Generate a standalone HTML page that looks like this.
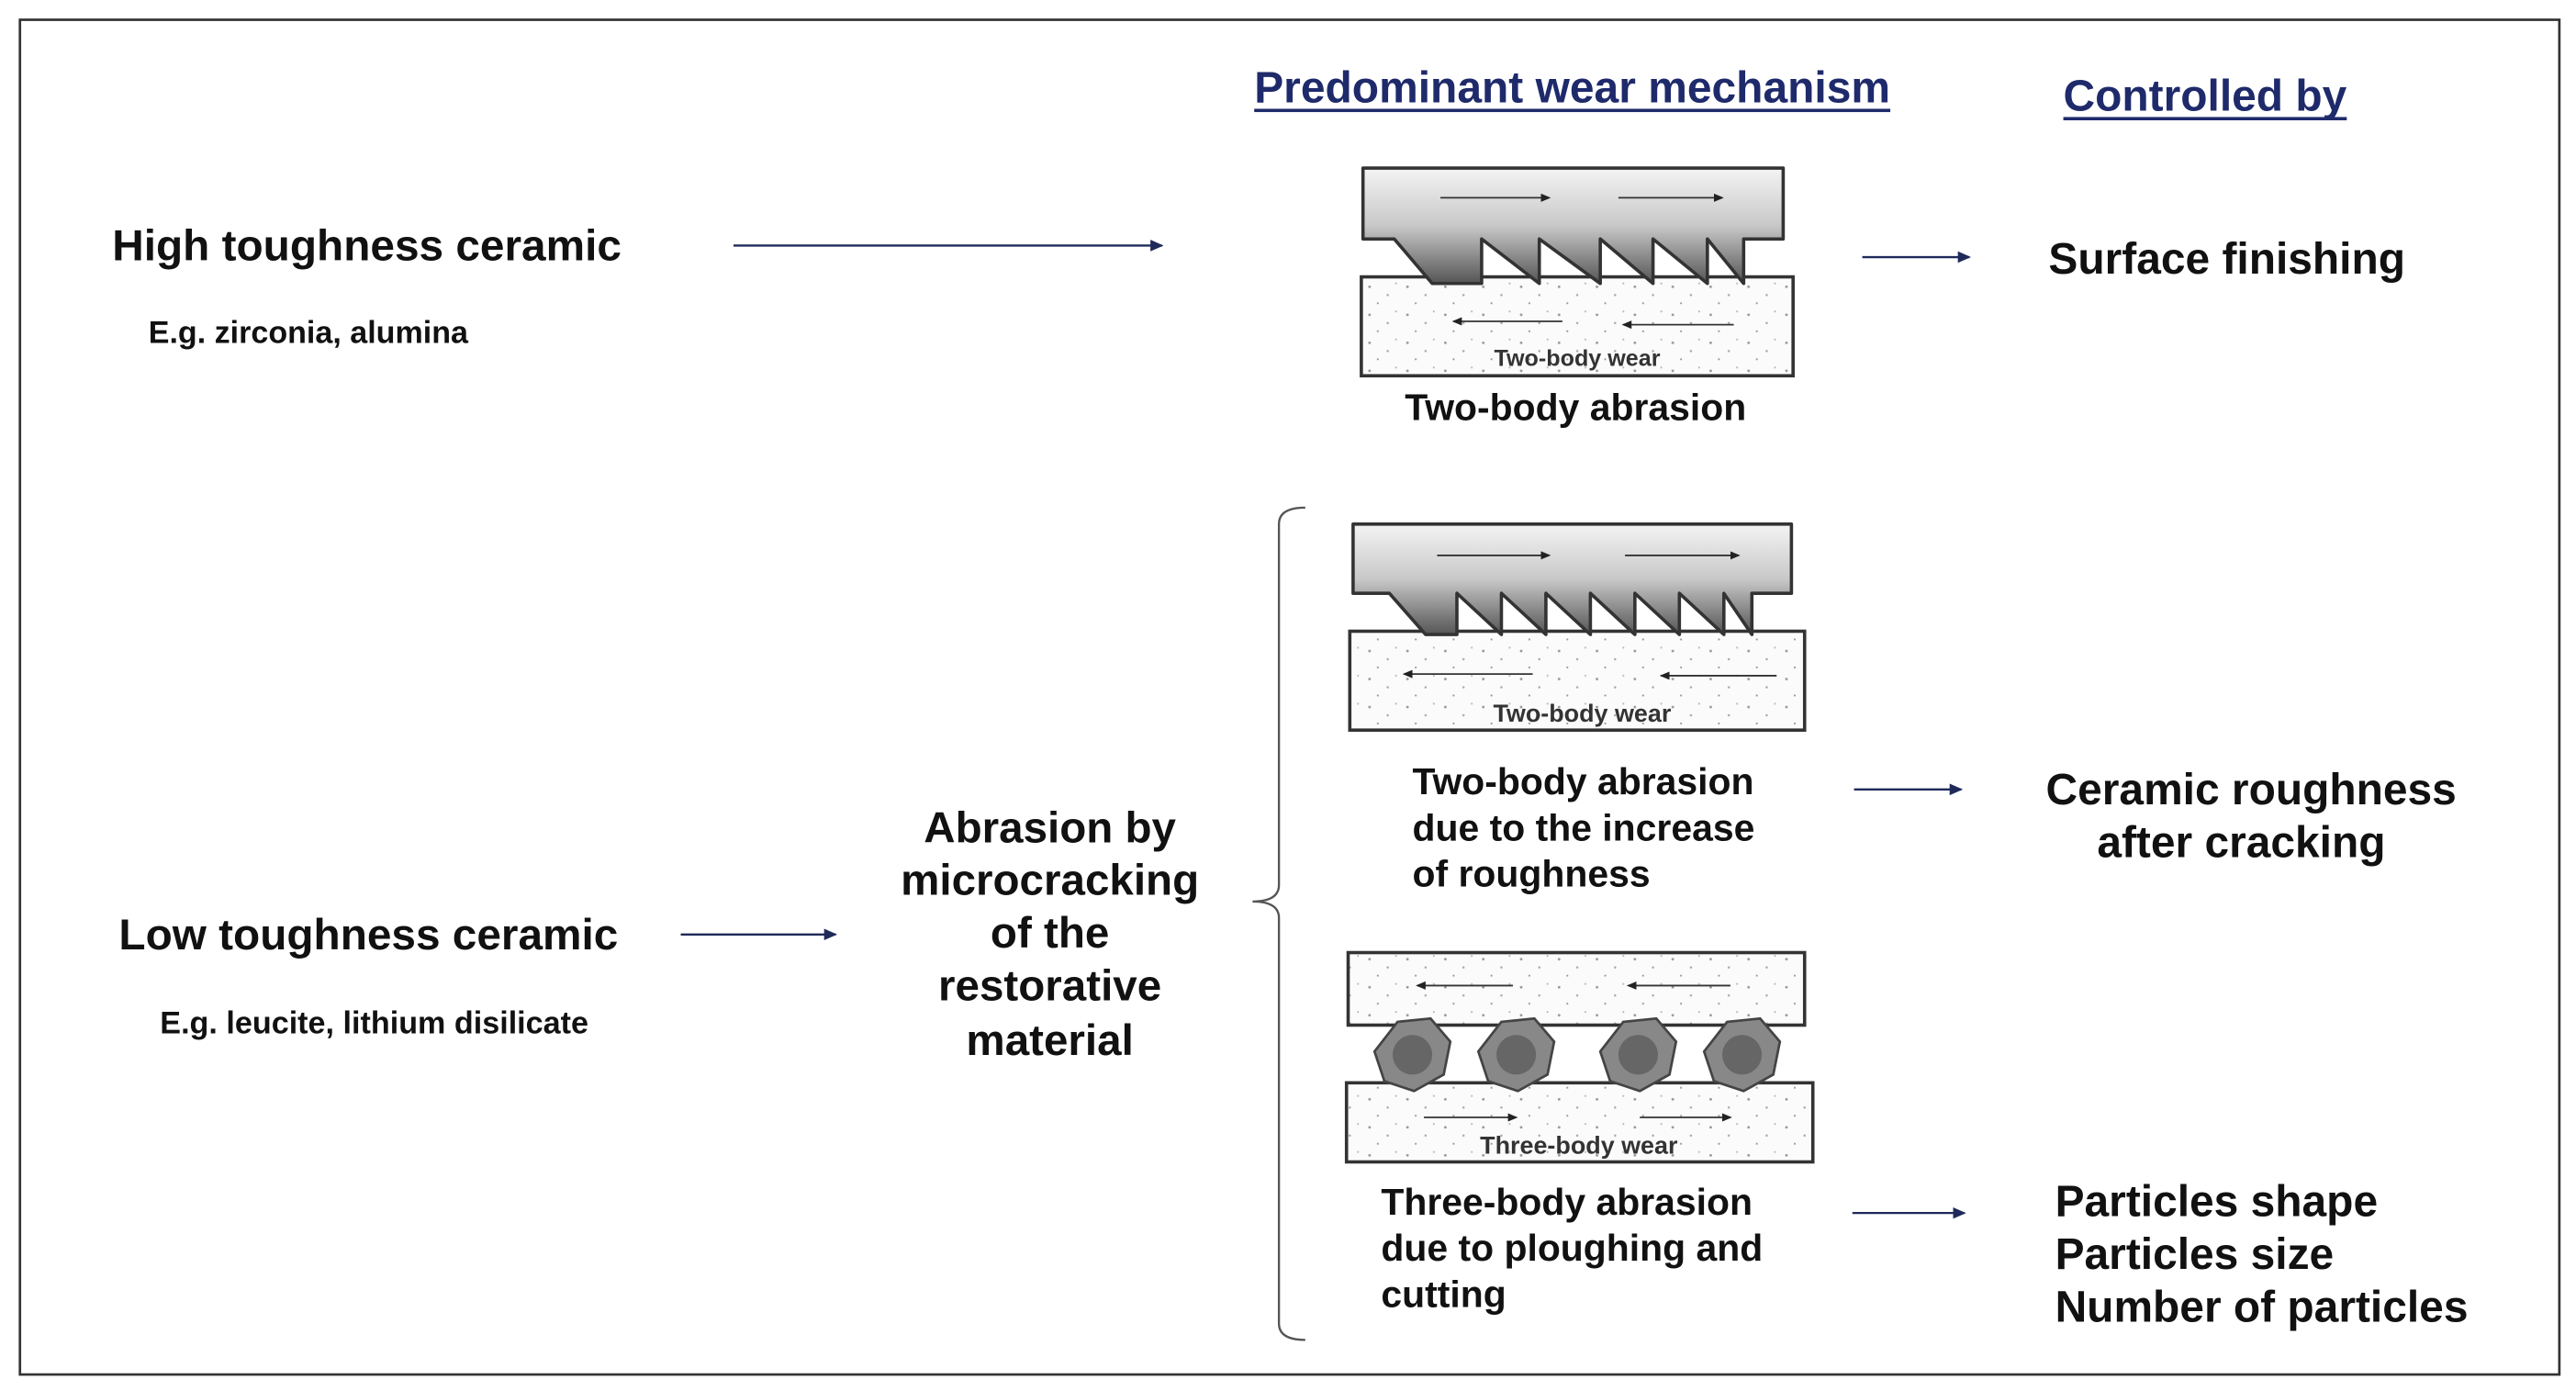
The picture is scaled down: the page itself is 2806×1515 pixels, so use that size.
<!DOCTYPE html>
<html><head><meta charset="utf-8"><style>
html,body{margin:0;padding:0;background:#fff;}
svg{display:block;}
text{font-family:"Liberation Sans",Arial,sans-serif;font-weight:bold;}
</style></head><body>
<svg width="2806" height="1515" viewBox="0 0 1563 844" xmlns="http://www.w3.org/2000/svg">
<defs>
<linearGradient id="g" x1="0" y1="0" x2="0" y2="1">
<stop offset="0" stop-color="#f4f4f4"/><stop offset="0.5" stop-color="#c8c8c8"/><stop offset="1" stop-color="#555"/>
</linearGradient>
<marker id="a" markerWidth="8" markerHeight="8" refX="7" refY="4" orient="auto" markerUnits="userSpaceOnUse"><path d="M0,0.5 L8,4 L0,7.5z" fill="#1f2a5a"/></marker>
<marker id="s" markerWidth="6" markerHeight="6" refX="5" refY="3" orient="auto" markerUnits="userSpaceOnUse"><path d="M0,0.5 L6,3 L0,5.5z" fill="#222"/></marker>
<pattern id="dots" width="23" height="17" patternUnits="userSpaceOnUse">
<rect width="23" height="17" fill="#fbfbfb"/>
<circle cx="3" cy="4" r="0.8" fill="#999"/><circle cx="14" cy="9" r="0.7" fill="#aaa"/><circle cx="8" cy="14" r="0.6" fill="#999"/><circle cx="19" cy="2" r="0.6" fill="#bbb"/>
</pattern>
</defs>
<rect x="12" y="12" width="1541" height="822" fill="none" stroke="#333" stroke-width="1.5"/>

<g fill="#1f2a6b" font-size="26.6">
<text x="761" y="62" textLength="386" lengthAdjust="spacingAndGlyphs">Predominant wear mechanism</text>
<rect x="761" y="66" width="386" height="2"/>
<text x="1252" y="67" textLength="172" lengthAdjust="spacingAndGlyphs">Controlled by</text>
<rect x="1252" y="71" width="172" height="2"/>
</g>

<g fill="#111">
<text x="68" y="158" font-size="26.5" textLength="309" lengthAdjust="spacingAndGlyphs">High toughness ceramic</text>
<text x="90" y="208" font-size="19" textLength="194" lengthAdjust="spacingAndGlyphs">E.g. zirconia, alumina</text>
<text x="72" y="576" font-size="26.5" textLength="303" lengthAdjust="spacingAndGlyphs">Low toughness ceramic</text>
<text x="97" y="627" font-size="19" textLength="260" lengthAdjust="spacingAndGlyphs">E.g. leucite, lithium disilicate</text>
<g font-size="26.5" text-anchor="middle">
<text x="637" y="511">Abrasion by</text>
<text x="637" y="543">microcracking</text>
<text x="637" y="575">of the</text>
<text x="637" y="607">restorative</text>
<text x="637" y="640">material</text>
</g>
<text x="956" y="255" font-size="22.8" text-anchor="middle">Two-body abrasion</text>
<g font-size="22.8">
<text x="857" y="482">Two-body abrasion</text>
<text x="857" y="510">due to the increase</text>
<text x="857" y="538">of roughness</text>
<text x="838" y="737">Three-body abrasion</text>
<text x="838" y="765">due to ploughing and</text>
<text x="838" y="793">cutting</text>
</g>
<g font-size="26.7">
<text x="1243" y="166">Surface finishing</text>
<text x="1366" y="488" text-anchor="middle">Ceramic roughness</text>
<text x="1360" y="520" text-anchor="middle">after cracking</text>
<text x="1247" y="738">Particles shape</text>
<text x="1247" y="770">Particles size</text>
<text x="1247" y="802">Number of particles</text>
</g>
</g>

<g stroke="#1f2a5a" stroke-width="1.3" marker-end="url(#a)">
<line x1="445" y1="149" x2="705" y2="149"/>
<line x1="1130" y1="156" x2="1195" y2="156"/>
<line x1="413" y1="567" x2="507" y2="567"/>
<line x1="1125" y1="479" x2="1190" y2="479"/>
<line x1="1124" y1="736" x2="1192" y2="736"/>
</g>

<path d="M792,308 Q776,308 776,318 L776,537 Q776,547 760,547 Q776,547 776,557 L776,803 Q776,813 792,813" fill="none" stroke="#555" stroke-width="1.3"/>

<!-- image 1 -->
<rect x="826" y="168" width="262" height="60" fill="url(#dots)" stroke="#333" stroke-width="2"/>
<path d="M827,102 L1082,102 L1082,145 L1058,145 L1058,172 L1036,145 L1036,172 L1003,145 L1003,172 L971,145 L971,172 L934,145 L934,172 L899,145 L899,172 L869,172 L846,145 L827,145 Z" fill="url(#g)" stroke="#333" stroke-width="2" stroke-linejoin="round"/>
<g stroke="#333" stroke-width="1" marker-end="url(#s)">
<line x1="874" y1="120" x2="940" y2="120"/><line x1="982" y1="120" x2="1045" y2="120"/>
<line x1="948" y1="195" x2="882" y2="195"/><line x1="1052" y1="197" x2="985" y2="197"/>
</g>
<text x="957" y="222" font-size="14" fill="#333" text-anchor="middle">Two-body wear</text>

<!-- image 2 -->
<rect x="819" y="383" width="276" height="60" fill="url(#dots)" stroke="#333" stroke-width="2"/>
<path d="M821,318 L1087,318 L1087,360 L1063,360 L1063,385 L1046,360 L1046,385 L1019,360 L1019,385 L992,360 L992,385 L965,360 L965,385 L938,360 L938,385 L911,360 L911,385 L884,360 L884,385 L865,385 L843,360 L821,360 Z" fill="url(#g)" stroke="#333" stroke-width="2" stroke-linejoin="round"/>
<g stroke="#333" stroke-width="1" marker-end="url(#s)">
<line x1="872" y1="337" x2="940" y2="337"/><line x1="986" y1="337" x2="1055" y2="337"/>
<line x1="930" y1="409" x2="852" y2="409"/><line x1="1078" y1="410" x2="1008" y2="410"/>
</g>
<text x="960" y="438" font-size="15" fill="#333" text-anchor="middle">Two-body wear</text>

<!-- image 3 -->
<rect x="818" y="578" width="277" height="44" fill="url(#dots)" stroke="#333" stroke-width="2"/>
<rect x="817" y="657" width="283" height="48" fill="url(#dots)" stroke="#333" stroke-width="2"/>
<g fill="#888" stroke="#444" stroke-width="1.5">
<polygon points="848,620 868,618 880,632 876,652 858,662 840,656 834,638"/>
<polygon points="911,620 931,618 943,632 939,652 921,662 903,656 897,638"/>
<polygon points="985,620 1005,618 1017,632 1013,652 995,662 977,656 971,638"/>
<polygon points="1048,620 1068,618 1080,632 1076,652 1058,662 1040,656 1034,638"/>
</g>
<g fill="#666">
<circle cx="857" cy="640" r="12"/><circle cx="920" cy="640" r="12"/><circle cx="994" cy="640" r="12"/><circle cx="1057" cy="640" r="12"/>
</g>
<g stroke="#333" stroke-width="1" marker-end="url(#s)">
<line x1="918" y1="598" x2="860" y2="598"/><line x1="1050" y1="598" x2="988" y2="598"/>
<line x1="864" y1="678" x2="920" y2="678"/><line x1="995" y1="678" x2="1050" y2="678"/>
</g>
<text x="958" y="700" font-size="15" fill="#333" text-anchor="middle">Three-body wear</text>
</svg>
</body></html>
